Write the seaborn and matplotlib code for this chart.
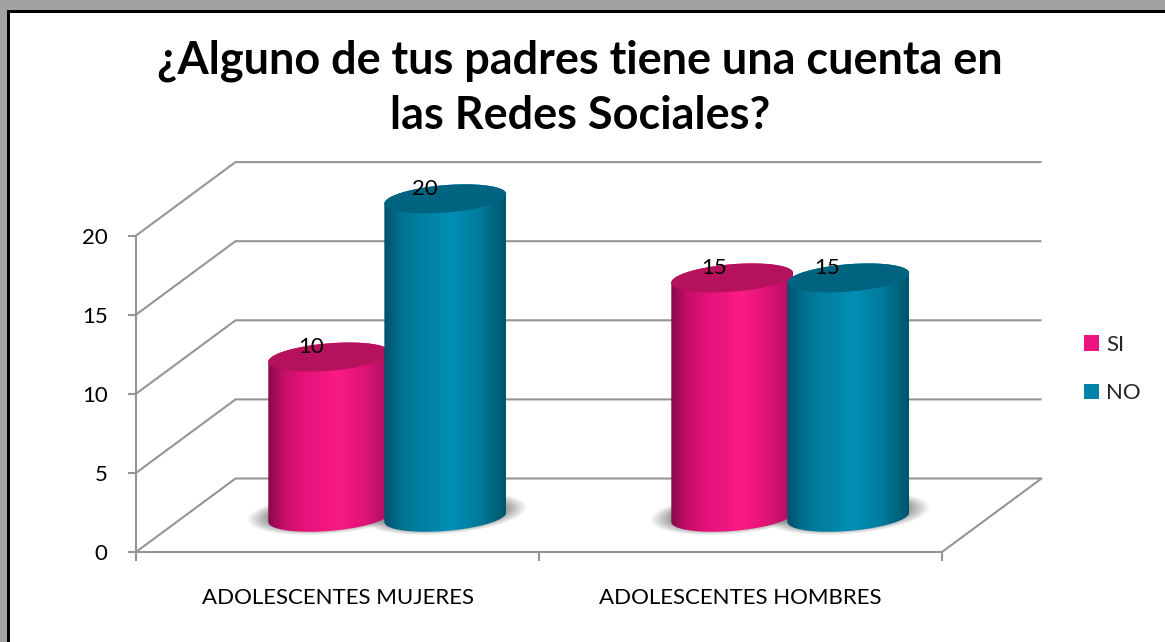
import numpy as np
import pandas as pd
import matplotlib
matplotlib.use("Agg")
import matplotlib.pyplot as plt
import seaborn as sns
from matplotlib.patches import Patch, PathPatch, Rectangle
from matplotlib.path import Path

# Survey answers per group
grupos = ["ADOLESCENTES MUJERES", "ADOLESCENTES HOMBRES"]
respuestas = ["SI", "NO"]
valores_si = [10, 15]
valores_no = [20, 15]
ticks_y = [0, 5, 10, 15, 20]
titulo = "¿Alguno de tus padres tiene una cuenta en\nlas Redes Sociales?"

W, H = 1165, 642
GRIS = "#959595"
# Side shading of each cylinder: (position across the width, colour)
SOMBREADO = {
    "SI": [(0, "#860a4c"), (0.12, "#c30e66"), (0.3, "#e4127a"), (0.58, "#fb1b84"),
           (0.78, "#e01477"), (1, "#ac0d5e")],
    "NO": [(0, "#00506c"), (0.13, "#00708f"), (0.3, "#0080a2"), (0.55, "#008fb4"),
           (0.78, "#007b9c"), (1, "#00546c")],
}
TAPA = {"SI": "#b5115d", "NO": "#00637f"}
LEYENDA = {"SI": "#ee1480", "NO": "#0083a8"}
DESPLAZA_ETIQUETA = {"SI": -13, "NO": -15}

sns.set_style("white")
plt.rcParams["font.family"] = ["Lato", "DejaVu Sans"]

fig = plt.figure(figsize=(W / 100, H / 100), dpi=100, facecolor="white")

# Window-style frame around the slide
fig.add_artist(Rectangle((0, (H - 10) / H), 1, 10 / H, transform=fig.transFigure, fc="#a2a2a2", ec="none"))
fig.add_artist(Rectangle((0, 0), 7 / W, 1, transform=fig.transFigure, fc="#a2a2a2", ec="none"))
fig.add_artist(Rectangle((7 / W, (H - 13) / H), 1, 3 / H, transform=fig.transFigure, fc="black", ec="none"))
fig.add_artist(Rectangle((7 / W, 0), 3 / W, (H - 10) / H, transform=fig.transFigure, fc="black", ec="none"))

ax = fig.add_axes([136 / W, (H - 552) / H, (942 - 136) / W, (552 - 235.6) / H])
ax.patch.set_visible(False)

datos = pd.DataFrame({
    "grupo": grupos * 2,
    "respuesta": ["SI"] * 2 + ["NO"] * 2,
    "cantidad": valores_si + valores_no,
})
sns.barplot(data=datos, x="grupo", y="cantidad", hue="respuesta", hue_order=respuestas,
            palette=LEYENDA, width=0.576, gap=0, legend=False, ax=ax)
XLIM, YLIM = (-0.5, 1.5), (0, 20)
ax.set_xlim(XLIM)
ax.set_ylim(YLIM)

# Depth of the 3-D box, in data units
ESC_X = (942 - 136) / 2
ESC_Y = (552 - 235.6) / 20
PROF_X = 99.5 / ESC_X
PROF_Y = 73.5 / ESC_Y
x0, x1 = XLIM

# Floor and walls
for v in ticks_y:
    ax.plot([x0, x0 + PROF_X, x1 + PROF_X], [v, v + PROF_Y, v + PROF_Y], color=GRIS, lw=1.5,
            clip_on=False, zorder=1, solid_capstyle="butt", solid_joinstyle="miter")
ax.plot([x1, x1 + PROF_X], [0, PROF_Y], color=GRIS, lw=1.5, clip_on=False, zorder=1)

sns.despine(ax=ax)
for lado in ("left", "bottom"):
    ax.spines[lado].set_color(GRIS)
    ax.spines[lado].set_linewidth(1.5)
ax.set_yticks(ticks_y)
ax.set_xticks([0, 1], grupos)
ax.set_xticks([-0.5, 0.5, 1.5], minor=True)
ax.tick_params(axis="y", length=6, width=1.5, color=GRIS, labelsize=16, pad=14.5, left=True, labelcolor="black")
ax.tick_params(axis="x", which="major", length=0, labelsize=16, pad=26, labelcolor="black")
ax.tick_params(axis="x", which="minor", length=6.5, width=1.5, color=GRIS, bottom=True)
ax.set_xlabel("")
ax.set_ylabel("")

inv = ax.transData.inverted()
a_datos = lambda p: inv.transform(p)
ANG = np.deg2rad(4.7)


def arco(cx, cy, a, b, t0, t1, n=80):
    t = np.linspace(t0, t1, n)
    return np.column_stack([cx + a * np.cos(t) * np.cos(ANG) - b * np.sin(t) * np.sin(ANG),
                            cy + a * np.cos(t) * np.sin(ANG) + b * np.sin(t) * np.cos(ANG)])


def cilindro(barra, clave, z):
    """Draws one bar of the plot as a shaded cylinder standing mid-depth in the box."""
    izq, ancho, alto = barra.get_x(), barra.get_width(), barra.get_height()
    centro = izq + ancho / 2 + PROF_X / 2
    base = ax.transData.transform((centro, PROF_Y / 2)) - np.array([0, 2.0])
    tope = ax.transData.transform((centro, alto + PROF_Y / 2))
    a = ancho * ESC_X / 2 * 1.05 / np.cos(ANG)
    b = 13.7

    # Soft contact shadow on the floor
    xs = np.arange(base[0] - a - 40, base[0] + a + 40)
    ys = np.arange(base[1] - 50, base[1] + 50)
    gx, gy = np.meshgrid(xs, ys)
    u = (gx - base[0]) * np.cos(ANG) + (gy - base[1] - 3) * np.sin(ANG)
    v = -(gx - base[0]) * np.sin(ANG) + (gy - base[1] - 3) * np.cos(ANG)
    d = np.hypot(u / (a + 22), v / (b + 7))
    alfa = 0.72 * np.clip((1 - d) / 0.28, 0, 1)
    rgba = np.zeros(gx.shape + (4,))
    rgba[..., :3] = 0.42
    rgba[..., 3] = alfa
    (ex0, ey0), (ex1, ey1) = a_datos((xs[0], ys[0])), a_datos((xs[-1], ys[-1]))
    sombra = ax.imshow(rgba, extent=(ex0, ex1, ey0, ey1), origin="lower", aspect="auto", zorder=2)
    sombra.set_clip_box(fig.bbox)
    sombra.set_clip_path(None)

    # Curved side with a horizontal gradient, cut to the cylinder outline
    contorno = np.vstack([arco(base[0], base[1], a, b, np.pi, 2 * np.pi),
                          arco(tope[0], tope[1], a, b, 0, np.pi)])
    pos = [p for p, _ in SOMBREADO[clave]]
    cols = np.array([matplotlib.colors.to_rgb(c) for _, c in SOMBREADO[clave]])
    lin = np.linspace(0, 1, 256)
    grad = np.stack([np.interp(lin, pos, cols[:, i]) for i in range(3)], axis=-1)[None, :, :]
    xa, xb = contorno[:, 0].min(), contorno[:, 0].max()
    ya, yb = contorno[:, 1].min(), contorno[:, 1].max()
    (e0, f0), (e1, f1) = a_datos((xa, ya)), a_datos((xb, yb))
    lado = ax.imshow(grad, extent=(e0, e1, f0, f1), aspect="auto", zorder=z, interpolation="bilinear")
    lado.set_clip_box(fig.bbox)
    lado.set_clip_path(Path(a_datos(contorno), closed=False), ax.transData)

    # Flat top cap
    tapa = arco(tope[0], tope[1], a, b, 0, 2 * np.pi, 160)
    ax.add_patch(PathPatch(Path(a_datos(tapa)), fc=TAPA[clave], ec="none", zorder=z + 0.1, clip_on=False))

    # Value label sitting on the cap
    ax.annotate(f"{alto:.0f}", xy=a_datos(tope), xytext=(DESPLAZA_ETIQUETA[clave], 7),
                textcoords="offset points", ha="center", va="center", fontsize=16,
                color="black", zorder=20, annotation_clip=False)


for contenedor, clave, z in zip(ax.containers, respuestas, (4, 5)):
    for barra in contenedor:
        barra.set_visible(False)
        cilindro(barra, clave, z)

ax.set_xlim(XLIM)
ax.set_ylim(YLIM)

manijas = [Patch(fc=LEYENDA[r], ec="none") for r in respuestas]
ax.legend(manijas, respuestas, loc="center left", bbox_to_anchor=(1084 / W, (H - 369) / H),
          bbox_transform=fig.transFigure, frameon=False, fontsize=16, handlelength=0.68,
          handleheight=0.68, handletextpad=0.32, labelspacing=1.29, borderpad=0, borderaxespad=0)

fig.text(580 / W, (H - 88) / H, titulo, ha="center", va="center", fontsize=32.4, fontweight="bold",
         color="black", linespacing=1.38)

fig.savefig("out.png", dpi=100)
